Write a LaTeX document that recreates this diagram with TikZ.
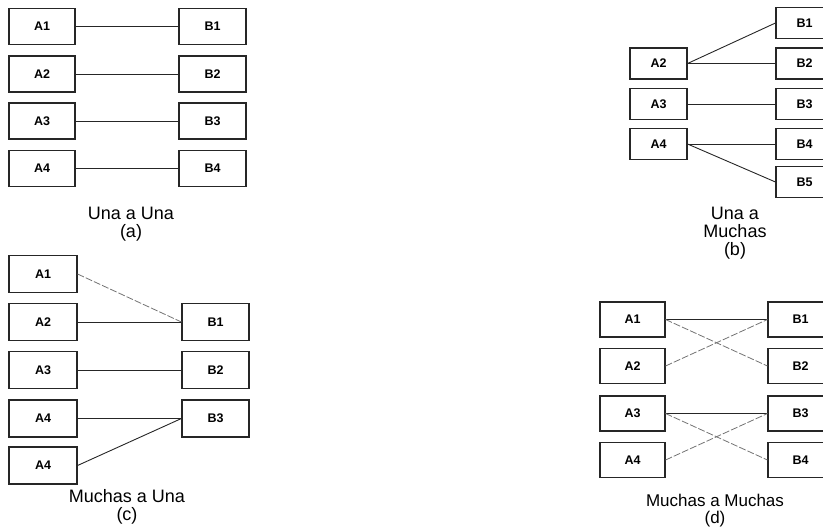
\documentclass[tikz,border=0pt]{standalone}
\usepackage{fontspec}
\setmainfont{Liberation Sans}
\begin{document}
\begin{tikzpicture}[x=1pt,y=-1pt,
  ebox/.style={draw=black!85,line width=1.1pt,inner sep=0pt,font=\bfseries\fontsize{12.5}{13}\selectfont},
  link/.style={draw=black!85,line width=0.9pt},
  faint/.style={draw=black!55,line width=0.8pt,dash pattern=on 7pt off 2pt},
  captxt/.style={align=center,font=\fontsize{18}{18}\selectfont},
  captxtd/.style={align=center,font=\fontsize{17}{17}\selectfont}]
\useasboundingbox (0,0) rectangle (823,530);
\clip (0,0) rectangle (823,530);
% ---------- (a) ----------
\begin{scope}[every node/.append style={ebox,minimum height=36pt}]
\node[minimum width=66pt] (aA1) at (42,26.5) {A1};
\node[minimum width=66pt] (aA2) at (42,74) {A2};
\node[minimum width=66pt] (aA3) at (42,121) {A3};
\node[minimum width=66pt] (aA4) at (42,168.5) {A4};
\node[minimum width=67pt] (aB1) at (212.5,26.5) {B1};
\node[minimum width=67pt] (aB2) at (212.5,74) {B2};
\node[minimum width=67pt] (aB3) at (212.5,121) {B3};
\node[minimum width=67pt] (aB4) at (212.5,168.5) {B4};
\end{scope}
\draw[link] (aA1.east) -- (aB1.west);
\draw[link] (aA2.east) -- (aB2.west);
\draw[link] (aA3.east) -- (aB3.west);
\draw[link] (aA4.east) -- (aB4.west);
\node[captxt] (capa) at (131,224) {Una a Una\\[0pt](a)};
% ---------- (b) ----------
\begin{scope}[every node/.append style={ebox,minimum height=31pt,minimum width=57pt}]
\node (bA2) at (658.5,63.5) {A2};
\node (bA3) at (658.5,104) {A3};
\node (bA4) at (658.5,144) {A4};
\node (bB1) at (804.5,23) {B1};
\node (bB2) at (804.5,63.5) {B2};
\node (bB3) at (804.5,104) {B3};
\node (bB4) at (804.5,144) {B4};
\node (bB5) at (804.5,182) {B5};
\end{scope}
\draw[link] (bA2.east) -- (bB1.west);
\draw[link] (bA2.east) -- (bB2.west);
\draw[link] (bA3.east) -- (bB3.west);
\draw[link] (bA4.east) -- (bB4.west);
\draw[link] (bA4.east) -- (bB5.west);
\node[captxt] (capb) at (735,233) {Una a\\[0pt]Muchas\\[0pt](b)};
% ---------- (c) ----------
\begin{scope}[every node/.append style={ebox,minimum height=37pt}]
\node[minimum width=68pt] (cA1) at (43,274) {A1};
\node[minimum width=68pt] (cA2) at (43,322) {A2};
\node[minimum width=68pt] (cA3) at (43,370) {A3};
\node[minimum width=68pt] (cA4) at (43,418.5) {A4};
\node[minimum width=68pt] (cA5) at (43,465.5) {A4};
\node[minimum width=67pt] (cB1) at (215.5,322) {B1};
\node[minimum width=67pt] (cB2) at (215.5,370) {B2};
\node[minimum width=67pt] (cB3) at (215.5,418.5) {B3};
\end{scope}
\draw[faint] (cA1.east) -- (cB1.west);
\draw[link] (cA2.east) -- (cB1.west);
\draw[link] (cA3.east) -- (cB2.west);
\draw[link] (cA4.east) -- (cB3.west);
\draw[link] (cA5.east) -- (cB3.west);
\node[captxt] (capc) at (127,507) {Muchas a Una\\[0pt](c)};
% ---------- (d) ----------
\begin{scope}[every node/.append style={ebox,minimum height=35pt,minimum width=65pt}]
\node (dA1) at (632.5,319.5) {A1};
\node (dA2) at (632.5,366) {A2};
\node (dA3) at (632.5,413.5) {A3};
\node (dA4) at (632.5,460) {A4};
\node (dB1) at (800.5,319.5) {B1};
\node (dB2) at (800.5,366) {B2};
\node (dB3) at (800.5,413.5) {B3};
\node (dB4) at (800.5,460) {B4};
\end{scope}
\draw[link] (dA1.east) -- (dB1.west);
\draw[faint] (dA1.east) -- (dB2.west);
\draw[faint] (dA2.east) -- (dB1.west);
\draw[link] (dA3.east) -- (dB3.west);
\draw[faint] (dA3.east) -- (dB4.west);
\draw[faint] (dA4.east) -- (dB3.west);
\node[captxtd] (capd) at (715,511) {Muchas a Muchas\\[0pt](d)};
\end{tikzpicture}
\end{document}
